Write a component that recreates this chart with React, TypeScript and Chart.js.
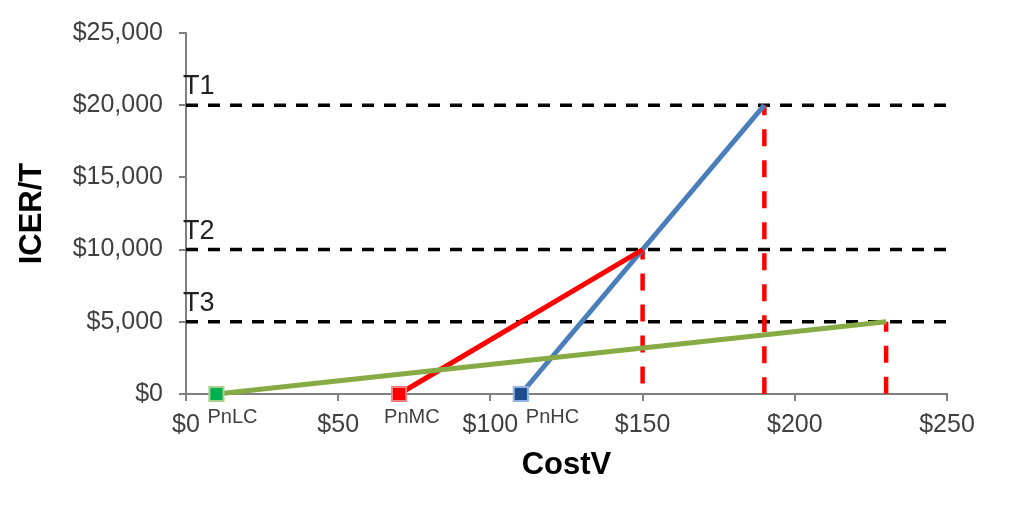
import React, { useEffect, useRef } from "react";
import { Chart, registerables } from "chart.js";

Chart.register(...registerables);

// ---- data ----
const pointLabels = ["PnLC", "PnMC", "PnHC"];
const startCost = [10, 70, 110];
const endCost = [230, 150, 190];
const endIcer = [5000, 10000, 20000];
const thresholdValues = [20000, 10000, 5000];
const thresholdLabels = ["T1", "T2", "T3"];
const xRange = [0, 250];
const yRange = [0, 25000];

const lineColors = ["#86AB45", "#FF0000", "#4A7EBB"];
const markerFill = ["#00B050", "#FF0000", "#1F4E8C"];
const markerEdge = ["#A9D18E", "#FF7F7F", "#8EB4E3"];
const labelDx = [-9, -15, 5];

const FONT = "'Liberation Sans', Arial, sans-serif";

const textPlugin = {
  id: "textPlugin",
  afterDatasetsDraw(chart: any) {
    const { ctx, scales } = chart;
    const xs = scales.x;
    const ys = scales.y;
    ctx.save();
    ctx.fillStyle = "#222";
    ctx.font = `27px ${FONT}`;
    ctx.textAlign = "left";
    ctx.textBaseline = "alphabetic";
    thresholdValues.forEach((v, i) => {
      ctx.fillText(thresholdLabels[i], xs.getPixelForValue(0) - 3, ys.getPixelForValue(v) - 11);
    });
    ctx.fillStyle = "#404040";
    ctx.font = `20px ${FONT}`;
    pointLabels.forEach((t, i) => {
      ctx.fillText(t, xs.getPixelForValue(startCost[i]) + labelDx[i], ys.getPixelForValue(0) + 29);
    });
    ctx.restore();
  },
};

export default function App() {
  const ref = useRef<HTMLCanvasElement>(null);
  useEffect(() => {
    document.body.style.margin = "0";
    const datasets: any[] = [];
    // colored lines
    pointLabels.forEach((name, i) => {
      datasets.push({
        label: name,
        data: [
          { x: startCost[i], y: 0 },
          { x: endCost[i], y: endIcer[i] },
        ],
        borderColor: lineColors[i],
        borderWidth: 5,
        pointStyle: "rect",
        pointRadius: [10, 0],
        pointBackgroundColor: markerFill[i],
        pointBorderColor: markerEdge[i],
        pointBorderWidth: 2,
        clip: false,
        order: 0,
      });
    });
    // red dashed drops
    pointLabels.forEach((name, i) => {
      datasets.push({
        label: name + " drop",
        data: [
          { x: endCost[i], y: endIcer[i] },
          { x: endCost[i], y: 0 },
        ],
        borderColor: "#FF0000",
        borderWidth: 4.5,
        borderDash: [17, 14],
        borderDashOffset: 7,
        pointRadius: 0,
        clip: false,
        order: 1,
      });
    });
    // black dashed thresholds
    thresholdValues.forEach((v, i) => {
      datasets.push({
        label: thresholdLabels[i],
        data: [
          { x: xRange[0], y: v },
          { x: xRange[1], y: v },
        ],
        borderColor: "#000000",
        borderWidth: 3.5,
        borderDash: [12, 10],
        pointRadius: 0,
        clip: false,
        order: 2,
      });
    });

    const chart = new Chart(ref.current!, {
      type: "line",
      data: { datasets },
      options: {
        animation: false,
        responsive: true,
        maintainAspectRatio: false,
        layout: { padding: { left: 0, top: 33, right: 76, bottom: 0 } },
        plugins: { legend: { display: false }, tooltip: { enabled: false } },
        scales: {
          x: {
            type: "linear",
            min: xRange[0],
            max: xRange[1],
            afterFit: (s: any) => {
              s.height = 122;
            },
            ticks: {
              stepSize: 50,
              padding: 9,
              color: "#404040",
              font: { family: FONT, size: 25 },
              callback: (v: any) => "$" + Number(v).toLocaleString("en-US"),
            },
            grid: { drawOnChartArea: false, drawTicks: true, tickLength: 7, color: "#808080", lineWidth: 2 },
            border: { color: "#808080", width: 2 },
            title: {
              display: true,
              text: "CostV",
              color: "#000",
              font: { family: FONT, size: 31, weight: "bold" },
              padding: { top: 0, bottom: 32 },
            },
          },
          y: {
            type: "linear",
            min: yRange[0],
            max: yRange[1],
            afterFit: (s: any) => {
              s.width = 186;
            },
            ticks: {
              stepSize: 5000,
              padding: 16,
              color: "#404040",
              font: { family: FONT, size: 25 },
              callback: (v: any) => "$" + Number(v).toLocaleString("en-US"),
            },
            grid: { drawOnChartArea: false, drawTicks: true, tickLength: 7, color: "#808080", lineWidth: 2 },
            border: { color: "#808080", width: 2 },
            title: {
              display: true,
              text: "ICER/T",
              color: "#000",
              font: { family: FONT, size: 31, weight: "bold" },
              padding: { top: 14, bottom: 0 },
            },
          },
        },
      },
      plugins: [textPlugin],
    });
    return () => chart.destroy();
  }, []);
  return (
    <div style={{ position: "fixed", left: 0, top: 0, width: 1023, height: 516, background: "#fff" }}>
      <canvas ref={ref} />
    </div>
  );
}
